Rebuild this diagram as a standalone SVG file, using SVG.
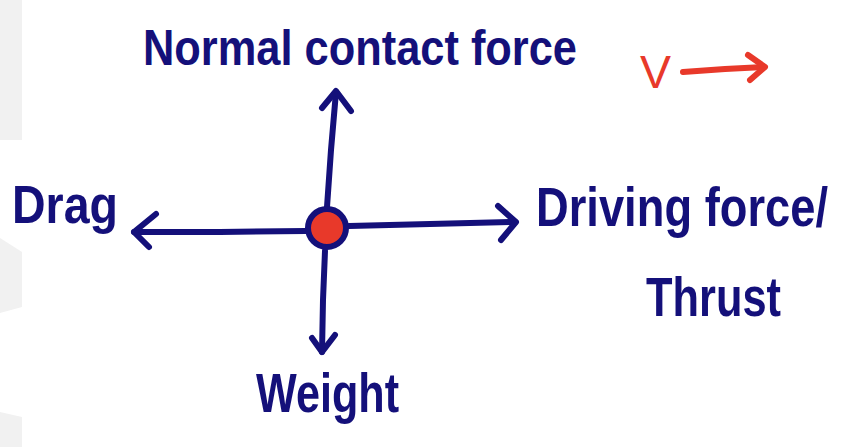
<svg xmlns="http://www.w3.org/2000/svg" width="844" height="447" viewBox="0 0 844 447">
<style>
.ink{fill:none;stroke:#14107a;stroke-width:6;stroke-linecap:round;stroke-linejoin:round}
.red{fill:none;stroke:#e8392a;stroke-width:6;stroke-linecap:round;stroke-linejoin:round}
.lbl{font-family:"Liberation Sans","DejaVu Sans",sans-serif;font-weight:bold;fill:#14107a}
.bg{fill:#f1f1f1}
</style>
<rect width="844" height="447" fill="#ffffff"/>
<g id="margin">
<rect class="bg" x="0" y="0" width="22" height="140"/>
<polygon class="bg" points="0,238 22,252 22,307 0,313"/>
<polygon class="bg" points="0,412 22,417 22,447 0,447"/>
</g>
<g id="connectors">
<path class="ink" d="M327,207 L331,150 L336,92"/>
<path class="ink" d="M322,108 L336,91 L351,111"/>
<path class="ink" d="M349,226 L430,224 L515,222"/>
<path class="ink" d="M498,206 L516,222 L501,240"/>
<path class="ink" d="M306,231 L220,232 L134,232"/>
<path class="ink" d="M156,214 L134,232 L149,247"/>
<path class="ink" d="M325,251 L323,300 L322,352"/>
<path class="ink" d="M312,338 L322,352 L335,335"/>
</g>
<g id="body">
<circle cx="327" cy="228" r="19" fill="#e8392a" stroke="#14107a" stroke-width="6"/>
</g>
<g id="velocity">
<text x="640" y="88" font-family="Liberation Sans,sans-serif" font-size="46" fill="#e8392a" textLength="31" lengthAdjust="spacingAndGlyphs">V</text>
<path class="red" d="M683,72 L725,69 L764,67"/>
<path class="red" d="M748,55 L765,67 L750,80"/>
</g>
<g id="label-normal">
<text class="lbl" x="143" y="65" font-size="50" textLength="434" lengthAdjust="spacingAndGlyphs">Normal contact force</text>
</g>
<g id="label-drag">
<text class="lbl" x="12" y="223" font-size="54" textLength="106" lengthAdjust="spacingAndGlyphs">Drag</text>
</g>
<g id="label-driving">
<text class="lbl" transform="translate(536,226) scale(1,1.19)" x="0" y="0" font-size="47" textLength="292" lengthAdjust="spacingAndGlyphs">Driving force/</text>
<text class="lbl" x="646" y="316" font-size="56" textLength="135" lengthAdjust="spacingAndGlyphs">Thrust</text>
</g>
<g id="label-weight">
<text class="lbl" x="256" y="412" font-size="56" textLength="143" lengthAdjust="spacingAndGlyphs">Weight</text>
</g>
</svg>
